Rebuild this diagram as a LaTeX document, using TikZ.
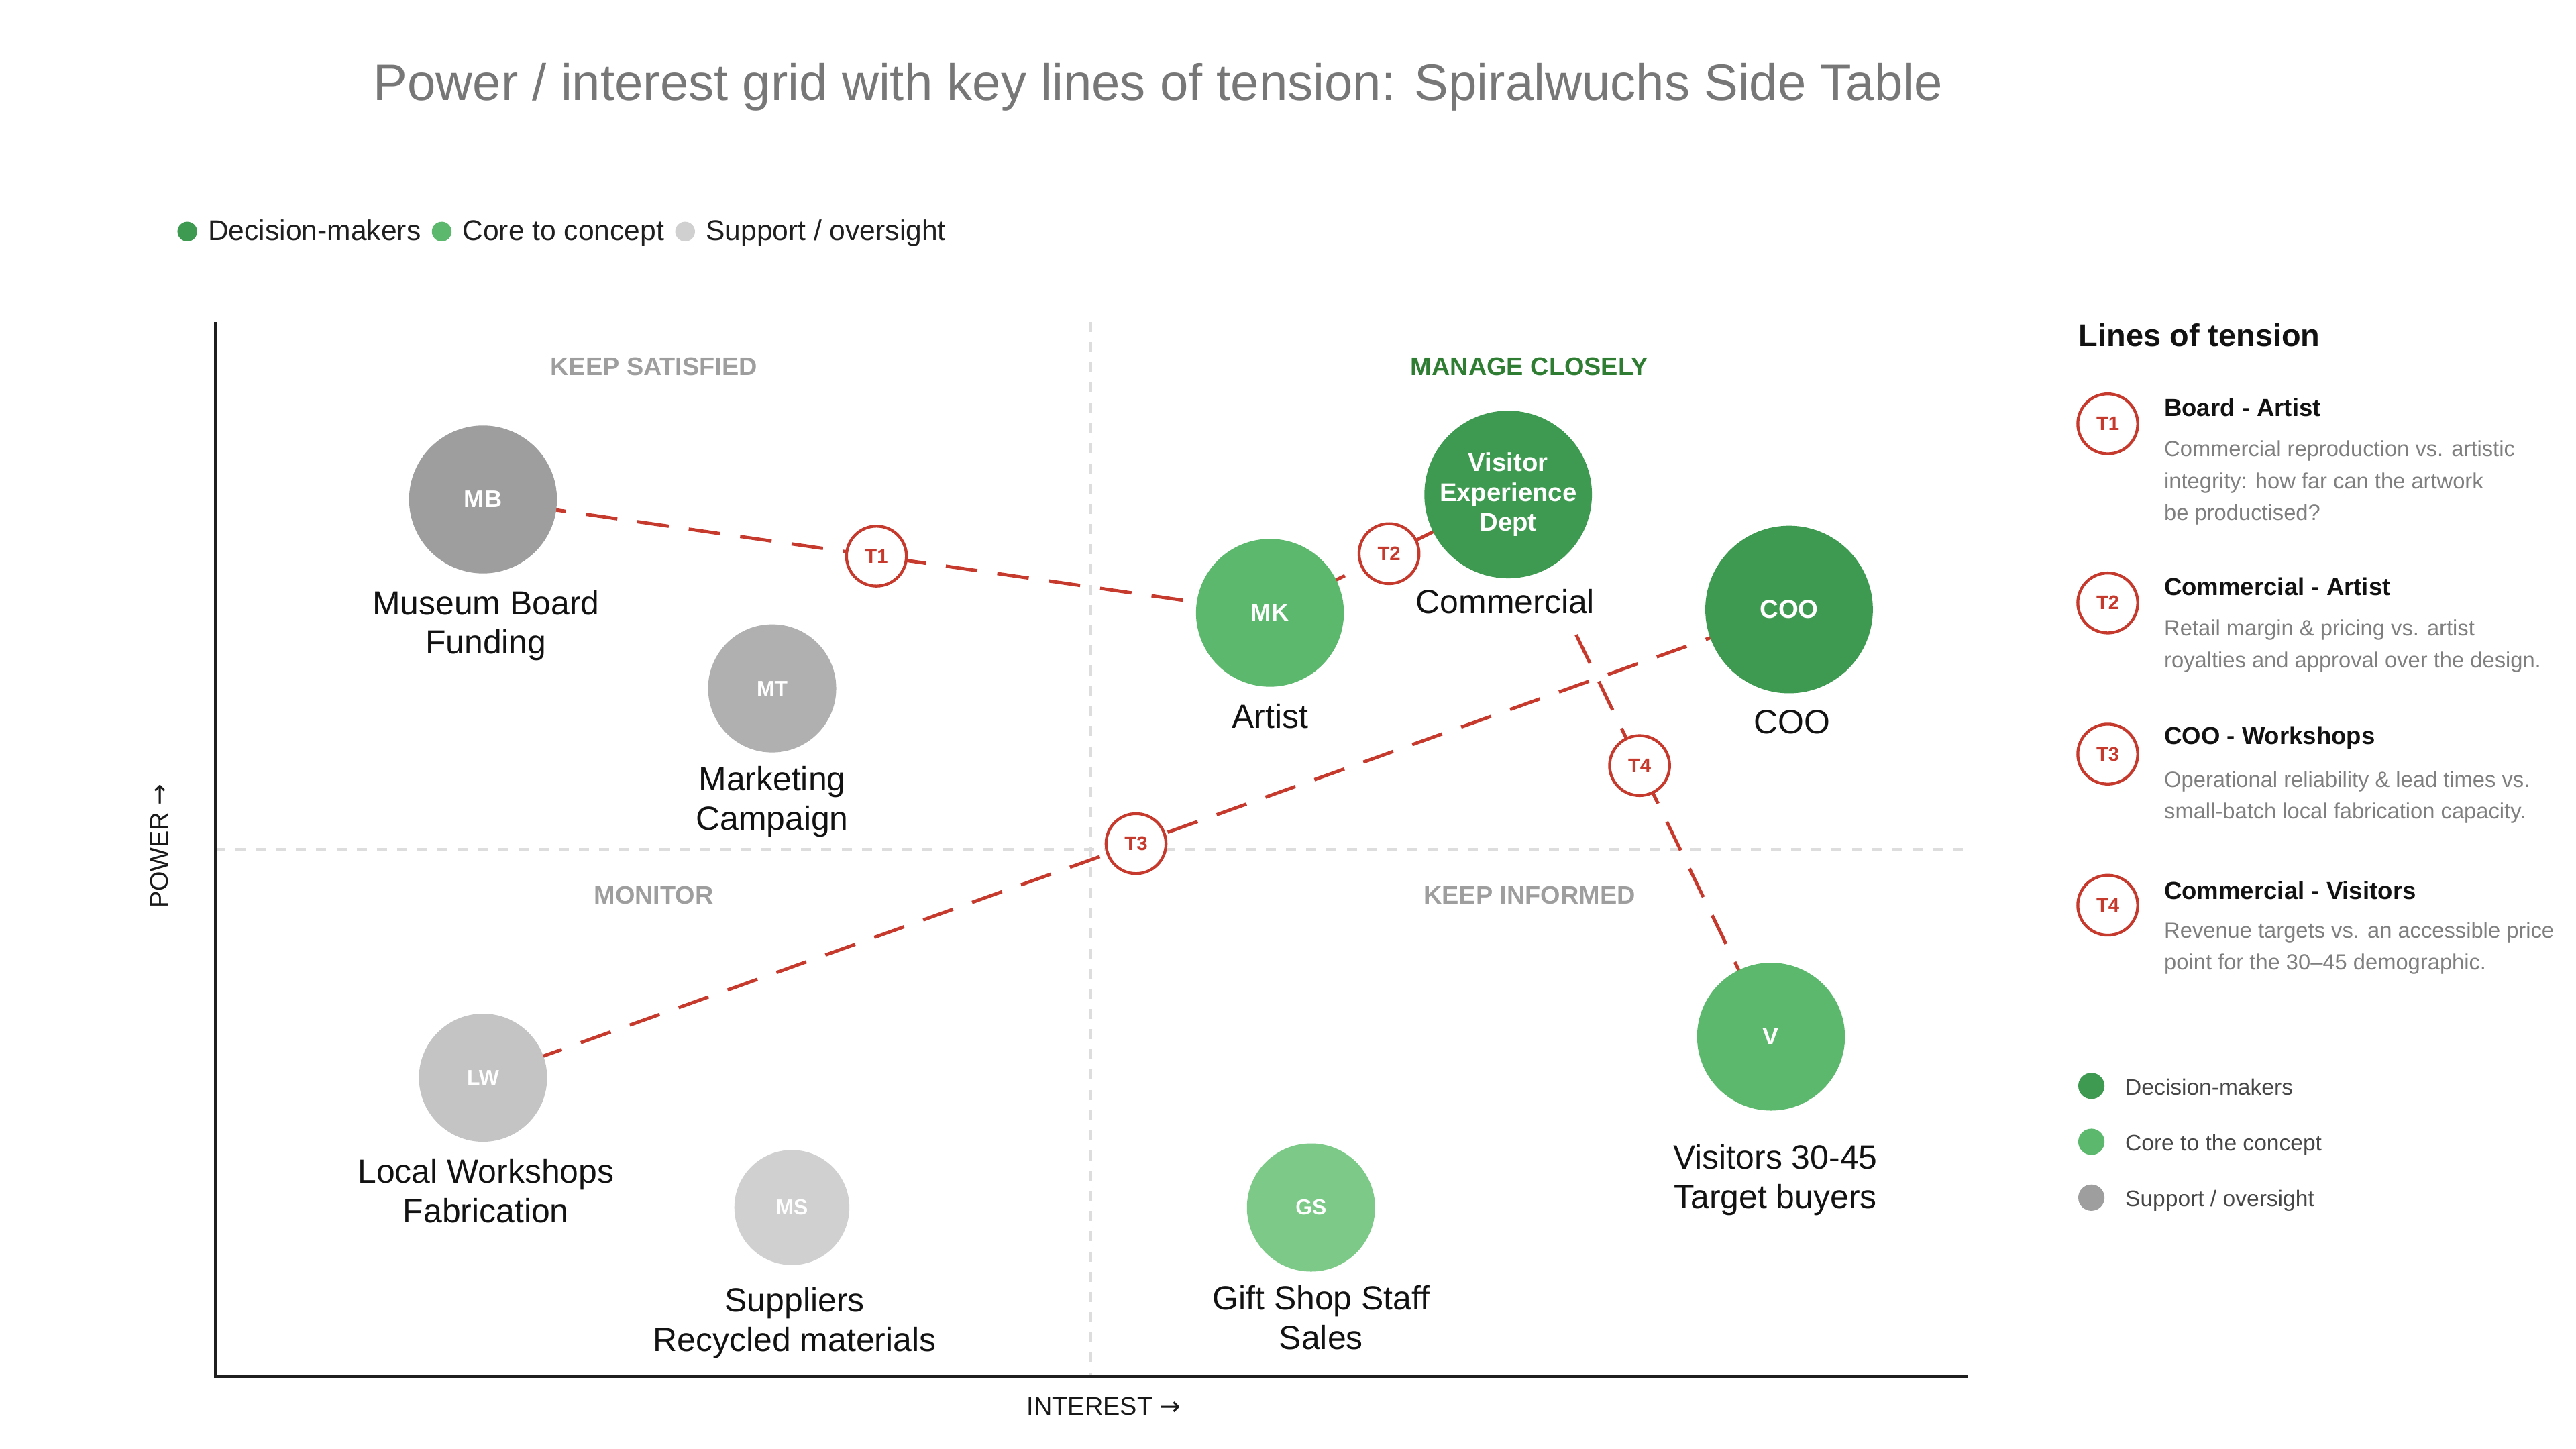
\documentclass[tikz,border=0pt]{standalone}
\usepackage{fontspec}
\setmainfont{Liberation Sans}
\newfontfamily\arrowfont{DejaVu Sans}
\usetikzlibrary{positioning,backgrounds}

\definecolor{deciderc}{HTML}{3E9A50}
\definecolor{corec}{HTML}{5CB86C}
\definecolor{shopc}{HTML}{7DCA88}
\definecolor{boardc}{HTML}{9E9E9E}
\definecolor{mktc}{HTML}{B0B0B0}
\definecolor{workc}{HTML}{C4C4C4}
\definecolor{supplc}{HTML}{D0D0D0}
\definecolor{tred}{HTML}{C63A2E}
\definecolor{quadgreen}{HTML}{2E7D32}
\definecolor{quadgray}{HTML}{9E9E9E}
\definecolor{gridgray}{HTML}{DDDDDD}
\definecolor{titlegray}{HTML}{777777}
\definecolor{descgray}{HTML}{7F7F7F}

\begin{document}
\begin{tikzpicture}[x=0.02cm, y=-0.02cm,
  stake/.style={circle, inner sep=0pt, minimum size=#1*0.02cm, text=white,
    font=\fontsize{8.4}{9.6}\selectfont\bfseries},
  smallstake/.style={font=\fontsize{7.4}{9}\selectfont\bfseries},
  bigstake/.style={font=\fontsize{8.9}{10.4}\selectfont\bfseries},
  lbl/.style={align=center, fill=white, inner sep=1.5pt, text=black!93,
    font=\fontsize{11.6}{13.6}\selectfont},
  tmark/.style={circle, solid, draw=tred, line width=1pt, fill=white, inner sep=0pt,
    minimum size=0.73cm, text=tred, font=\fontsize{6.8}{8}\selectfont\bfseries},
  tensionline/.style={draw=tred, line width=1.15pt, dash pattern=on 11pt off 7pt},
  quad/.style={text=quadgray, font=\fontsize{8.8}{10}\selectfont\bfseries},
  divider/.style={draw=gridgray, line width=0.8pt, dash pattern=on 3.5pt off 3.5pt},
  axis/.style={draw=black!88, line width=0.9pt},
  axislbl/.style={text=black!90, font=\fontsize{8.8}{10}\selectfont},
  keydot/.style={circle, inner sep=0pt, minimum size=#1*0.02cm},
  keytxt/.style={inner sep=0pt, text height=1.6ex, text depth=0.4ex, text=black!88,
    font=\fontsize{9.9}{11}\selectfont},
  paneltitle/.style={anchor=west, inner sep=0pt, text=black!93,
    font=\fontsize{10.9}{12}\selectfont\bfseries},
  itemttl/.style={anchor=west, inner sep=0pt, text=black!93,
    font=\fontsize{8.5}{10}\selectfont\bfseries},
  itemdesc/.style={anchor=north west, align=left, inner sep=0pt, text=descgray,
    font=\fontsize{7.6}{11}\selectfont},
  panelkey/.style={inner sep=0pt, text height=1.6ex, text depth=0.4ex, text=black!72,
    font=\fontsize{7.8}{9}\selectfont}
]
\useasboundingbox (0,0) rectangle (1568,882);

\node[text=titlegray, font=\fontsize{17.7}{20}\selectfont] (title) at (705,53)
  {Power / interest grid with key lines of tension: Spiralwuchs Side Table};

\node[keydot=12, fill=deciderc] (kd1) at (114,141) {};
\node[keytxt, right=3.4pt of kd1] (kt1) {Decision-makers};
\node[keydot=12, fill=corec, right=3.4pt of kt1] (kd2) {};
\node[keytxt, right=3.4pt of kd2] (kt2) {Core to concept};
\node[keydot=12, fill=supplc, right=3.4pt of kt2] (kd3) {};
\node[keytxt, right=3.4pt of kd3] (kt3) {Support / oversight};

\coordinate (ytop) at (131,196);
\coordinate (origin) at (131,838);
\coordinate (xend) at (1198,838);
\coordinate (midtop) at (664,196);
\coordinate (midbot) at (664,838);
\coordinate (midleft) at (131,517);
\coordinate (midright) at (1198,517);

\draw[axis] (ytop) -- (origin) -- (xend);
\node[axislbl] (xlbl) at (672,856) {INTEREST {\arrowfont →}};
\node[axislbl, rotate=90] (ylbl) at (97,515) {POWER {\arrowfont →}};

\node[quad] (q1) at (398,223) {KEEP SATISFIED};
\node[quad, text=quadgreen] (q2) at (931,223) {MANAGE CLOSELY};
\node[quad] (q3) at (398,545) {MONITOR};
\node[quad] (q4) at (931,545) {KEEP INFORMED};

\node[stake=90, fill=boardc] (MB) at (294,304) {MB};
\node[lbl, below=4pt of MB, xshift=1pt] (MBlbl) {Museum Board\\Funding};
\node[stake=78, smallstake, fill=mktc] (MT) at (470,419) {MT};
\node[lbl, below=3pt of MT] (MTlbl) {Marketing\\Campaign};
\node[stake=90, fill=corec] (MK) at (773,373) {MK};
\node[lbl, below=4pt of MK] (MKlbl) {Artist};
\node[stake=102, bigstake, fill=deciderc, align=center] (VX) at (918,301)
  {Visitor\\Experience\\Dept};
\node[lbl, below=2pt of VX, xshift=-1pt] (VXlbl) {Commercial};
\node[stake=102, bigstake, fill=deciderc] (COO) at (1089,371) {COO};
\node[lbl, below=4pt of COO, xshift=1pt] (COOlbl) {COO};
\node[stake=78, smallstake, fill=workc] (LW) at (294,656) {LW};
\node[lbl, below=4pt of LW, xshift=1pt] (LWlbl) {Local Workshops\\Fabrication};
\node[stake=70, smallstake, fill=supplc] (MS) at (482,735) {MS};
\node[lbl, below=6pt of MS, xshift=1pt] (MSlbl) {Suppliers\\Recycled materials};
\node[stake=78, smallstake, fill=shopc] (GS) at (798,735) {GS};
\node[lbl, below=3pt of GS, xshift=3.5pt] (GSlbl) {Gift Shop Staff\\Sales};
\node[stake=90, fill=corec] (V) at (1078,631) {V};
\node[lbl, below=10pt of V, xshift=1.5pt] (Vlbl) {Visitors 30-45\\Target buyers};

\begin{scope}[on background layer]
  \draw[divider] (midtop) -- (midbot);
  \draw[divider] (midleft) -- (midright);
  \draw[tensionline] (MB.center) -- node[tmark] (T1) {T1} (MK.center);
  \draw[tensionline] (MK.center) -- node[tmark] (T2) {T2} (VX.center);
  \draw[tensionline] (LW.center) -- node[tmark] (T3) {T3} (COO.center);
  \draw[tensionline] (VX.center) -- node[tmark] (T4) {T4} (V.center);
\end{scope}

\node[paneltitle] (ptitle) at (1265,204) {Lines of tension};

\node[tmark] (p1) at (1283,258) {T1};
\node[itemttl] (p1t) at (1317,248) {Board - Artist};
\node[itemdesc] (p1d) at (1317,268)
  {Commercial reproduction vs. artistic\\integrity: how far can the artwork\\be productised?};

\node[tmark] (p2) at (1283,367) {T2};
\node[itemttl] (p2t) at (1317,357) {Commercial - Artist};
\node[itemdesc] (p2d) at (1317,377)
  {Retail margin \& pricing vs. artist\\royalties and approval over the design.};

\node[tmark] (p3) at (1283,459) {T3};
\node[itemttl] (p3t) at (1317,449) {COO - Workshops};
\node[itemdesc] (p3d) at (1317,469)
  {Operational reliability \& lead times vs.\\small-batch local fabrication capacity.};

\node[tmark] (p4) at (1283,551) {T4};
\node[itemttl] (p4t) at (1317,542) {Commercial - Visitors};
\node[itemdesc] (p4d) at (1317,561)
  {Revenue targets vs. an accessible price\\point for the 30–45 demographic.};

\node[keydot=16, fill=deciderc] (bd1) at (1273,661) {};
\node[panelkey, right=6.8pt of bd1] (bt1) {Decision-makers};
\node[keydot=16, fill=corec] (bd2) at (1273,695) {};
\node[panelkey, right=6.8pt of bd2] (bt2) {Core to the concept};
\node[keydot=16, fill=boardc] (bd3) at (1273,729) {};
\node[panelkey, right=6.8pt of bd3] (bt3) {Support / oversight};
\end{tikzpicture}
\end{document}
